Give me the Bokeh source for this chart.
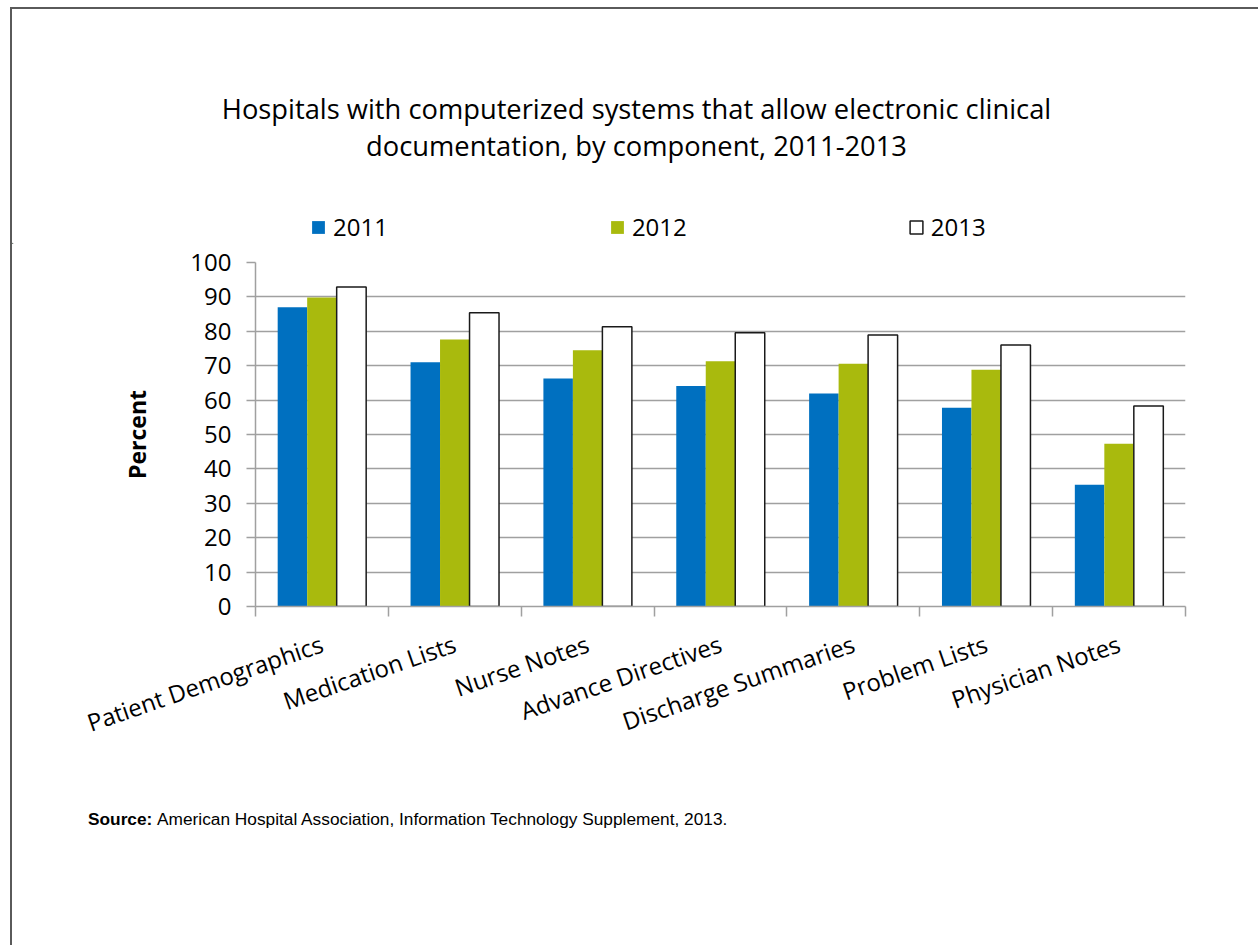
from math import radians

from bokeh.plotting import figure
from bokeh.layouts import column
from bokeh.models import ColumnDataSource, Range1d, FixedTicker, Label, Legend, LegendItem
from bokeh.transform import dodge
from bokeh.embed import file_html
from bokeh.resources import INLINE

# ---------------- data ----------------
categories = ["Patient Demographics", "Medication Lists", "Nurse Notes",
              "Advance Directives", "Discharge Summaries", "Problem Lists",
              "Physician Notes"]
years = ["2011", "2012", "2013"]
values_2011 = [87.0, 71.0, 66.3, 64.1, 61.9, 57.8, 35.4]
values_2012 = [89.8, 77.6, 74.5, 71.3, 70.6, 68.8, 47.3]
values_2013 = [92.9, 85.4, 81.3, 79.6, 78.9, 76.0, 58.3]
y_ticks = [0, 10, 20, 30, 40, 50, 60, 70, 80, 90, 100]

title_lines = ["Hospitals with computerized systems that allow electronic clinical",
               "documentation, by component, 2011-2013"]
y_label = "Percent"
source_bold = "Source:"
source_text = "American Hospital Association, Information Technology Supplement, 2013."

# ---------------- style ----------------
BLUE = "#0070C0"
GREEN = "#A9BA0D"
GRAY = "#A0A0A0"
FONT = "Open Sans"

W = 1246
OX, OY = 12, 9                # page position of the canvas origin
H_TOP, H_CHART, H_BOT = 235, 516, 185
FL, FT, FW, FH = 243, 18, 930, 344   # chart frame inside chart canvas


def plain_fig(h):
    f = figure(width=W, height=h, x_range=Range1d(0, W), y_range=Range1d(0, h),
               output_backend="svg", toolbar_location=None,
               x_axis_location=None, y_axis_location=None, min_border=0)
    f.grid.visible = False
    f.outline_line_color = None
    f.background_fill_color = "white"
    f.border_fill_color = "white"
    f.frame_align = False
    return f


BW = 0.222

# ---------------- top: title + legend ----------------
pt = plain_fig(H_TOP)
for line, base in zip(title_lines, [108.0, 144.5]):
    pt.add_layout(Label(x=636 - OX, y=H_TOP - (base - OY), text=line,
                        text_align="center", text_baseline="alphabetic",
                        text_font=FONT, text_font_size="27.3px", text_color="black"))

# legend swatches (kept outside the visible area; only their legend entries show)
k1 = pt.vbar(x=[-100], top=[1], width=1, fill_color=BLUE, line_color=None)
k2 = pt.vbar(x=[-100], top=[1], width=1, fill_color=GREEN, line_color=None)
k3 = pt.vbar(x=[-100], top=[1], width=1, fill_color="white",
             line_color="#1a1a1a", line_width=1.5)
legend = Legend(items=[LegendItem(label=years[0], renderers=[k1]),
                       LegendItem(label=years[1], renderers=[k2]),
                       LegendItem(label=years[2], renderers=[k3])],
                orientation="horizontal", location=(310 - OX, 1),
                glyph_width=16, glyph_height=16, label_standoff=7, spacing=221,
                padding=0, margin=0, border_line_color=None,
                background_fill_alpha=0,
                label_text_font=FONT, label_text_font_size="24px",
                label_text_color="black")
pt.add_layout(legend)

# ---------------- chart ----------------
x_pos = [i + 0.5 for i in range(len(categories))]
src = ColumnDataSource(dict(x=x_pos, y2011=values_2011, y2012=values_2012,
                            y2013=values_2013, cat=categories))

p = figure(width=W, height=H_CHART, x_range=Range1d(0, len(categories)),
           y_range=Range1d(0, 100), output_backend="svg", toolbar_location=None,
           min_border_left=FL, min_border_right=W - FL - FW,
           min_border_top=FT, min_border_bottom=H_CHART - FT - FH)
p.outline_line_color = None
p.background_fill_color = "white"
p.border_fill_color = "white"
p.frame_align = False

p.vbar(x=dodge("x", -BW), top="y2011", width=BW, source=src,
       fill_color=BLUE, line_color=None)
p.vbar(x=dodge("x", 0.0), top="y2012", width=BW, source=src,
       fill_color=GREEN, line_color=None)
p.vbar(x=dodge("x", BW), top="y2013", width=BW, source=src,
       fill_color="white", line_color="#1a1a1a", line_width=1.5)

xa = p.xaxis[0]
xa.ticker = FixedTicker(ticks=x_pos, minor_ticks=list(range(len(categories) + 1)))
xa.major_label_overrides = {x: c for x, c in zip(x_pos, categories)}
xa.major_tick_out = 0
xa.major_tick_in = 0
xa.minor_tick_out = 10
xa.minor_tick_in = 0
xa.minor_tick_line_color = GRAY
xa.minor_tick_line_width = 1.5
xa.axis_line_color = GRAY
xa.axis_line_width = 1.5
xa.major_label_orientation = radians(19)
xa.major_label_standoff = 26
xa.major_label_text_font = FONT
xa.major_label_text_font_size = "24px"
xa.major_label_text_color = "black"

ya = p.yaxis[0]
ya.ticker = FixedTicker(ticks=y_ticks)
ya.major_tick_out = 9
ya.major_tick_in = 0
ya.minor_tick_out = 0
ya.minor_tick_in = 0
ya.major_tick_line_color = GRAY
ya.major_tick_line_width = 1.5
ya.axis_line_color = GRAY
ya.axis_line_width = 1.5
ya.major_label_standoff = 15
ya.major_label_text_font = FONT
ya.major_label_text_font_size = "24px"
ya.major_label_text_color = "black"
ya.axis_label = y_label
ya.axis_label_text_font = FONT
ya.axis_label_text_font_size = "23px"
ya.axis_label_text_font_style = "bold"
ya.axis_label_text_color = "black"
ya.axis_label_standoff = 34

p.xgrid.visible = False
p.ygrid.grid_line_color = GRAY
p.ygrid.grid_line_width = 1.5

# ---------------- bottom: source ----------------
pb = plain_fig(H_BOT)
y0 = OY + H_TOP + H_CHART
pb.add_layout(Label(x=87.5 - OX, y=H_BOT - (818 - y0), text=source_bold,
                    text_align="left", text_baseline="alphabetic",
                    text_font="Liberation Sans", text_font_size="17.3px",
                    text_font_style="bold", text_color="black"))
pb.add_layout(Label(x=156.5 - OX, y=H_BOT - (818 - y0), text=source_text,
                    text_align="left", text_baseline="alphabetic",
                    text_font="Liberation Sans", text_font_size="17.3px",
                    text_color="black"))

layout = column(pt, p, pb, spacing=0)
layout.styles = {"margin-left": "10px", "margin-top": "7px",
                 "border-left": "2px solid #5a5a5a", "border-top": "2px solid #5a5a5a"}

open("out.html", "w").write(file_html(layout, INLINE))
